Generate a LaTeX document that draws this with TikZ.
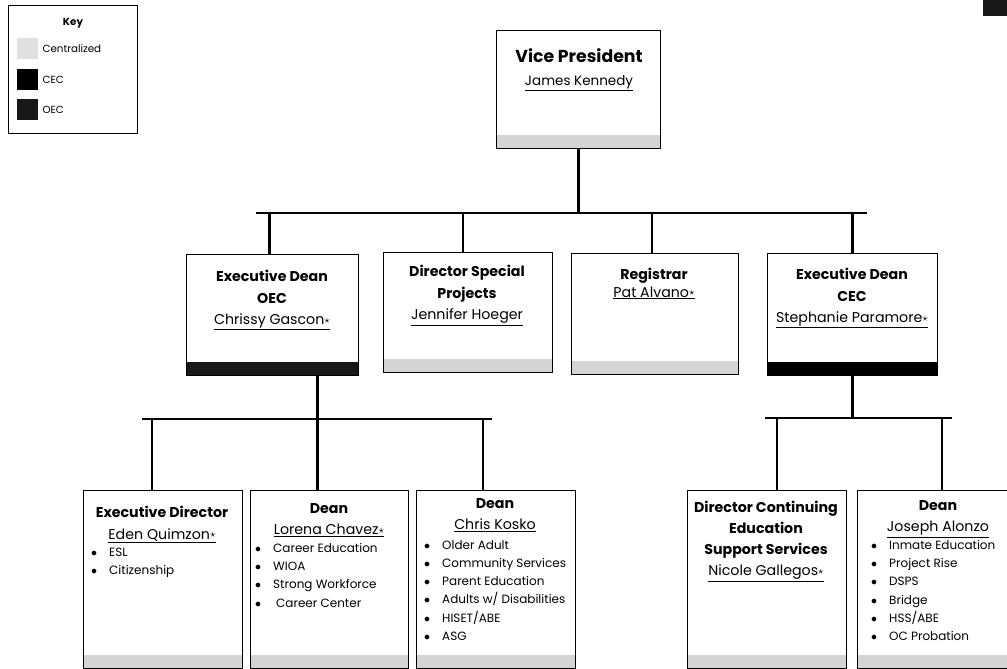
\documentclass[tikz,border=0pt]{standalone}
\usepackage{fontspec}
\setmainfont{Poppins}
\usetikzlibrary{positioning}
\definecolor{bandgray}{RGB}{212,212,212}
\definecolor{oecdark}{RGB}{24,24,24}
\newcommand{\bul}{\makebox[18pt][l]{$\bullet$}}
\newcommand{\who}[1]{\underline{#1}}
\newcommand{\lead}{\raisebox{.15ex}{\fontsize{11}{11}\selectfont$\star$}}

\begin{document}
\begin{tikzpicture}[x=1pt, y=-1pt,
    box/.style={draw, line width=1.1pt, anchor=north west, inner sep=0pt},
    band/.style={path picture={\fill[#1] ([yshift=14pt]path picture bounding box.south west) rectangle (path picture bounding box.south east);}},
    conn/.style={line width=2.6pt},
    head/.style={align=center, inner sep=0pt, anchor=north, font=\fontsize{14.2}{21.5}\selectfont},
    items/.style={align=left, inner sep=0pt, anchor=north west, font=\fontsize{12}{18.3}\selectfont},
    swatch/.style={anchor=north west, minimum width=21pt, minimum height=21pt, inner sep=0pt},
    keytxt/.style={anchor=west, inner sep=0pt, font=\fontsize{10.3}{12}\selectfont}]

    % Page
    \useasboundingbox (0,0) rectangle (1007,669);
    \fill[black!90] (983,0) rectangle (1007,16);

    % Key
    \node[box, line width=1pt, minimum width=129pt, minimum height=128pt] (key) at (8,5) {};
    \node[inner sep=0pt, font=\bfseries\fontsize{10.3}{12}\selectfont] (key title) at (73,23) {Key};
    \node[swatch, fill=black!12] (sw cen) at (17,38) {};
    \node[swatch, fill=black] (sw cec) at (17,69) {};
    \node[swatch, fill=oecdark] (sw oec) at (17,99) {};
    \node[keytxt, right=4pt of sw cen] (key cen) {Centralized};
    \node[keytxt, right=4pt of sw cec] (key cec) {CEC};
    \node[keytxt, right=4pt of sw oec] (key oec) {OEC};

    % Vice President
    \node[box, minimum width=164pt, minimum height=118pt, band=bandgray] (vp) at (496,30) {};
    \node[head, font=\fontsize{17.3}{23}\selectfont] (vp text) at (579,48)
        {\textbf{Vice President}\\ {\fontsize{13.5}{15}\selectfont\who{James Kennedy}}};

    % Second row
    \node[box, minimum width=172pt, minimum height=121pt, band=oecdark] (exdoec) at (186,254) {};
    \node[box, minimum width=169pt, minimum height=120pt, band=bandgray] (dirsp) at (383,252) {};
    \node[box, minimum width=167pt, minimum height=121pt, band=bandgray] (reg) at (571,253) {};
    \node[box, minimum width=170pt, minimum height=122pt, band=black] (exdcec) at (767,253) {};

    \node[head] (exdoec text) at (272,270) {\textbf{Executive Dean}\\ \textbf{OEC}\\ \who{Chrissy Gascon\lead}};
    \node[head] (dirsp text) at (467,265) {\textbf{Director Special}\\ \textbf{Projects}\\ \who{Jennifer Hoeger}};
    \node[head, font=\fontsize{14.2}{17.5}\selectfont] (reg text) at (654,268) {\textbf{Registrar}\\ \who{Pat Alvano\lead}};
    \node[head] (exdcec text) at (852,268) {\textbf{Executive Dean}\\ \textbf{CEC}\\ \who{Stephanie Paramore\lead}};

    % Bottom row
    \node[box, minimum width=159pt, minimum height=178pt, band=bandgray] (edir) at (83,490) {};
    \node[box, minimum width=158pt, minimum height=178pt, band=bandgray] (deanlc) at (250,490) {};
    \node[box, minimum width=159pt, minimum height=178pt, band=bandgray] (deanck) at (416,490) {};
    \node[box, minimum width=159pt, minimum height=178pt, band=bandgray] (dircss) at (687,490) {};
    \node[box, minimum width=163pt, minimum height=178pt, band=bandgray] (deanja) at (857,490) {};

    \node[head] (edir text) at (162,506) {\textbf{Executive Director}\\ \who{Eden Quimzon\lead}};
    \node[head] (deanlc text) at (329,503) {\textbf{Dean}\\ \who{Lorena Chavez\lead}};
    \node[head] (deanck text) at (495,498) {\textbf{Dean}\\ \who{Chris Kosko}};
    \node[head, font=\fontsize{14.2}{21}\selectfont] (dircss text) at (766,501)
        {\textbf{Director Continuing}\\ \textbf{Education}\\ \textbf{Support Services}\\ \who{Nicole Gallegos\lead}};
    \node[head] (deanja text) at (938,500) {\textbf{Dean}\\ \who{Joseph Alonzo}};

    \node[items] (edir list) at (91,548) {\bul ESL\\ \bul Citizenship};
    \node[items] (deanlc list) at (255,543) {\bul Career Education\\ \bul WIOA\\ \bul Strong Workforce\\ \bul\hspace{3pt}Career Center};
    \node[items] (deanck list) at (424,540) {\bul Older Adult\\ \bul Community Services\\ \bul Parent Education\\
        \bul Adults w/ Disabilities\\ \bul HISET/ABE\\ \bul ASG};
    \node[items] (deanja list) at (871,540) {\bul Inmate Education\\ \bul Project Rise\\ \bul DSPS\\
        \bul Bridge\\ \bul HSS/ABE\\ \bul OC Probation};

    % Connectors: top level
    \coordinate (vpbarL) at (256,213);
    \coordinate (vpbarR) at (867,213);
    \draw[conn] (vp.south) -- (vp.south |- vpbarL);
    \draw[conn] (vpbarL) -- (vpbarR);
    \foreach \n/\dx in {exdoec/-3, dirsp/-5, reg/-3, exdcec/0}
        \draw[conn] ([xshift=\dx pt]\n.north) -- ([xshift=\dx pt]\n.north |- vpbarL);

    % Connectors: OEC
    \coordinate (oecbarL) at (142,419);
    \coordinate (oecbarR) at (492,419);
    \draw[conn] ([xshift=45pt]exdoec.south) -- ([xshift=45pt]exdoec.south |- oecbarL);
    \draw[conn] (oecbarL) -- (oecbarR);
    \foreach \n/\dx in {edir/-11, deanlc/-12, deanck/-13}
        \draw[conn] ([xshift=\dx pt]\n.north) -- ([xshift=\dx pt]\n.north |- oecbarL);

    % Connectors: CEC
    \coordinate (cecbarL) at (765,418);
    \coordinate (cecbarR) at (952,418);
    \draw[conn] (exdcec.south) -- (exdcec.south |- cecbarL);
    \draw[conn] (cecbarL) -- (cecbarR);
    \foreach \n/\dx in {dircss/10, deanja/3}
        \draw[conn] ([xshift=\dx pt]\n.north) -- ([xshift=\dx pt]\n.north |- cecbarL);
\end{tikzpicture}
\end{document}
